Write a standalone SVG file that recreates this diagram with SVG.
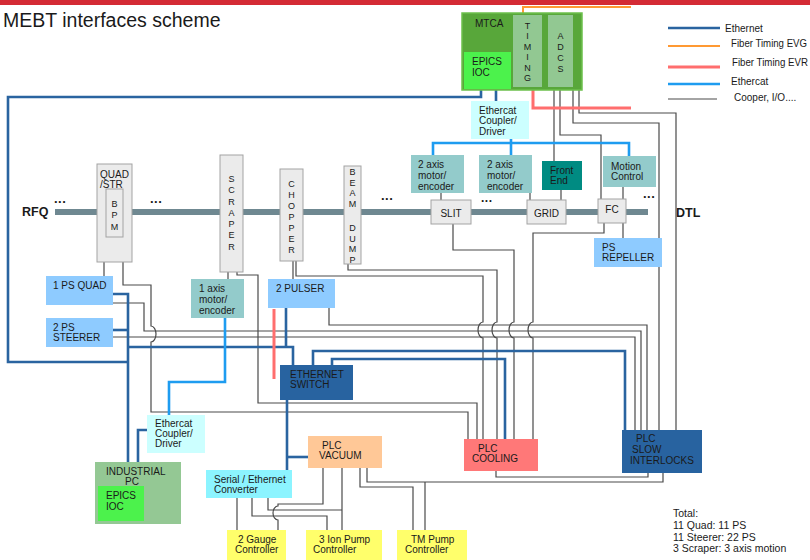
<svg xmlns="http://www.w3.org/2000/svg" width="810" height="560" viewBox="0 0 810 560">
<style>
text{font-family:"Liberation Sans",Arial,sans-serif;font-size:10px;fill:#1a1a1a}
.mid{text-anchor:middle}
.bl{fill:#ebebeb;stroke:#a3a3a3;stroke-width:1}
.cu{fill:none;stroke:#4a4a4a;stroke-width:1.2}
.eth{fill:none;stroke:#2a64a0;stroke-width:2.6}
.ecat{fill:none;stroke:#1e9cf0;stroke-width:2.6}
.evr{fill:none;stroke:#ff6e6e;stroke-width:3}
.evg{fill:none;stroke:#ff9933;stroke-width:2}
.ps{fill:#8ecbff}
.mot{fill:#93cbcb}
.cpl{fill:#ccffff}
.dblue{fill:#2863a0}
.ioc{fill:#4cf24c}
.yel{fill:#ffff6b}
.big{font-size:19.5px}
.bold{font-weight:bold;font-size:12.5px}
.dots{font-weight:bold;font-size:13px;letter-spacing:0.5px}
.small{font-size:9px}
.vt{font-size:9px;text-anchor:middle}
</style>
<rect width="810" height="560" fill="#ffffff"/>
<rect x="0" y="0" width="810" height="5" fill="#d42b35"/>
<text class="big" x="3" y="27">MEBT interfaces scheme</text>

<g id="legend">
<line x1="668" y1="28" x2="720" y2="28" class="eth"/>
<text x="725" y="32">Ethernet</text>
<line x1="668" y1="46" x2="720" y2="46" class="evg"/>
<text x="731" y="47" textLength="76" lengthAdjust="spacingAndGlyphs">Fiber Timing EVG</text>
<line x1="668" y1="67" x2="720" y2="67" class="evr"/>
<text x="732" y="66" textLength="76" lengthAdjust="spacingAndGlyphs">Fiber Timing EVR</text>
<line x1="668" y1="84" x2="720" y2="84" class="ecat"/>
<text x="731" y="85">Ethercat</text>
<line x1="668" y1="99" x2="717" y2="99" stroke="#4a4a4a" stroke-width="1.2"/>
<text x="734" y="101">Cooper, I/O....</text>
</g>

<g id="beamline">
<rect x="55" y="209" width="593" height="6" fill="#6f8891"/>
<text class="bold" x="22" y="216">RFQ</text>
<text class="bold" x="676" y="217">DTL</text>
<text class="dots" x="54" y="203">...</text>
<text class="dots" x="150" y="203">...</text>
<text class="dots" x="381" y="200">...</text>
<text class="dots" x="481" y="202" style="font-size:12px">...</text>
<text class="dots" x="643" y="198">...</text>
</g>

<g id="connectors">
<!-- copper -->
<path class="cu" d="M554,90V161"/>
<path class="cu" d="M560,90V135H601V199"/>
<path class="cu" d="M573,90V123H659V430"/>
<path class="cu" d="M579,90V113H676V430"/>
<path class="cu" d="M441,193V200"/>
<path class="cu" d="M530,193V200"/>
<path class="cu" d="M561,190V200"/>
<path class="cu" d="M623,187V199"/>
<path class="cu" d="M623,223V238"/>
<path class="cu" d="M604,223V233H533V322A5,8 0 0 0 533,338V440"/>
<path class="cu" d="M453,224V250H514V322A5,8 0 0 0 514,338V440"/>
<path class="cu" d="M348,264V270H497V322A5,8 0 0 0 497,338V440"/>
<path class="cu" d="M296,261V276H483V322A5,8 0 0 0 483,338V440"/>
<path class="cu" d="M293,261V279"/>
<path class="cu" d="M228,272V279"/>
<path class="cu" d="M237,272V275H258V403H477V439"/>
<path class="cu" d="M104,262V276"/>
<path class="cu" d="M123,262V285H151V326A5,8 0 0 1 151,342V412H468V439"/>
<path class="cu" d="M113,303H144V331H641V430"/>
<path class="cu" d="M113,337H635V430"/>
<path class="cu" d="M329,308V325H647V430"/>
<path class="cu" d="M496,471V477H648V473"/>
<path class="cu" d="M367,468V482H663V473"/>
<path class="cu" d="M360,468V487H413V530"/>
<path class="cu" d="M425,530V482"/>
<path class="cu" d="M342,468V530"/>
<path class="cu" d="M323,468V504H278V506A5,7 0 0 0 278,520V530"/>
<path class="cu" d="M237,498V530"/>
<path class="cu" d="M252,498V516H327V530"/>
<path class="cu" d="M268,498V510H342"/>
<!-- ethernet -->
<path class="eth" d="M481,89V97H8V362H128"/>
<path class="eth" d="M496,90V101"/>
<path class="eth" d="M113,294H128V462"/>
<path class="eth" d="M113,330H128"/>
<path class="eth" d="M128,347H293V365"/>
<path class="eth" d="M286,308V347"/>
<path class="eth" d="M313,365V351H625V430"/>
<path class="eth" d="M332,365V359H505V439"/>
<path class="eth" d="M287,400V470"/>
<path class="eth" d="M287,457H308"/>
<path class="eth" d="M147,430H138V462"/>
<!-- ethercat -->
<path class="ecat" d="M511,139V155"/>
<path class="ecat" d="M433,155V143H629V156"/>
<path class="ecat" d="M225,318V382H169V415"/>
<!-- fiber -->
<path class="evr" d="M533,87V108H631"/>
<path class="evr" d="M274,309V379"/>
<path class="evg" d="M523,15V7H631"/>
</g>

<g id="mtca">
<rect x="462" y="13" width="120" height="77" fill="#58a73a" stroke="#6cc04c" stroke-width="1.5"/>
<text x="475" y="27">MTCA</text>
</g>
<g id="mtca-ioc">
<rect x="464" y="52" width="47" height="37" class="ioc"/>
<text x="472" y="65">EPICS</text>
<text x="472" y="76">IOC</text>
</g>
<g id="timing">
<rect x="513" y="15" width="29" height="72" fill="#92c892"/>
<text class="vt" x="527.5" y="28.5">T</text>
<text class="vt" x="527.5" y="39">I</text>
<text class="vt" x="527.5" y="49.5">M</text>
<text class="vt" x="527.5" y="60">I</text>
<text class="vt" x="527.5" y="70.5">N</text>
<text class="vt" x="527.5" y="81">G</text>
</g>
<g id="adcs">
<rect x="548" y="15" width="25" height="72" fill="#92c892"/>
<text class="vt" x="560.5" y="39">A</text>
<text class="vt" x="560.5" y="50">D</text>
<text class="vt" x="560.5" y="61">C</text>
<text class="vt" x="560.5" y="72">S</text>
</g>

<g id="coupler-top">
<rect x="471" y="101" width="58" height="38" class="cpl"/>
<text x="479" y="113.5">Ethercat</text>
<text x="479" y="124">Coupler/</text>
<text x="479" y="134.5">Driver</text>
</g>
<g id="motor2a">
<rect x="411" y="155" width="53" height="38" class="mot"/>
<text x="418" y="167.5">2 axis</text>
<text x="418" y="178.5">motor/</text>
<text x="418" y="189.5">encoder</text>
</g>
<g id="motor2b">
<rect x="479" y="155" width="53" height="38" class="mot"/>
<text x="487" y="167.5">2 axis</text>
<text x="487" y="178.5">motor/</text>
<text x="487" y="189.5">encoder</text>
</g>
<g id="frontend">
<rect x="542" y="161" width="40" height="29" fill="#008b82"/>
<text x="550" y="173.5">Front</text>
<text x="550" y="184">End</text>
</g>
<g id="motion">
<rect x="603" y="156" width="53" height="31" class="mot"/>
<text x="611" y="169.5">Motion</text>
<text x="611" y="179.5">Control</text>
</g>

<g id="quad">
<rect x="97" y="164" width="35" height="98" class="bl"/>
<text x="100" y="177.5">QUAD</text>
<text x="100" y="187.5">/STR</text>
<rect x="106" y="189" width="17" height="48" class="bl"/>
<text class="vt" x="114.5" y="206.5">B</text>
<text class="vt" x="114.5" y="218">P</text>
<text class="vt" x="114.5" y="230">M</text>
</g>
<g id="scraper">
<rect x="220" y="155" width="23" height="117" class="bl"/>
<text class="vt" x="231.5" y="181.5">S</text>
<text class="vt" x="231.5" y="192.5">C</text>
<text class="vt" x="231.5" y="204.5">R</text>
<text class="vt" x="231.5" y="215.5">A</text>
<text class="vt" x="231.5" y="226.5">P</text>
<text class="vt" x="231.5" y="237.5">E</text>
<text class="vt" x="231.5" y="249.5">R</text>
</g>
<g id="chopper">
<rect x="280" y="169" width="23" height="92" class="bl"/>
<text class="vt" x="291.5" y="186.5">C</text>
<text class="vt" x="291.5" y="197.5">H</text>
<text class="vt" x="291.5" y="208.5">O</text>
<text class="vt" x="291.5" y="219.5">P</text>
<text class="vt" x="291.5" y="230.5">P</text>
<text class="vt" x="291.5" y="241.5">E</text>
<text class="vt" x="291.5" y="252.5">R</text>
</g>
<g id="beamdump">
<rect x="344" y="166" width="17" height="98" class="bl"/>
<text class="vt" x="352.5" y="174.5">B</text>
<text class="vt" x="352.5" y="185.5">E</text>
<text class="vt" x="352.5" y="196">A</text>
<text class="vt" x="352.5" y="207">M</text>
<text class="vt" x="352.5" y="231">D</text>
<text class="vt" x="352.5" y="241.5">U</text>
<text class="vt" x="352.5" y="252">M</text>
<text class="vt" x="352.5" y="262.5">P</text>
</g>
<g id="slit">
<rect x="431" y="200" width="40" height="24" class="bl"/>
<text class="mid" x="451" y="216.5">SLIT</text>
</g>
<g id="grid">
<rect x="527" y="200" width="39" height="24" class="bl"/>
<text class="mid" x="546.5" y="216.5">GRID</text>
</g>
<g id="fc">
<rect x="598" y="199" width="28" height="24" class="bl"/>
<text class="mid" x="612" y="212.5">FC</text>
</g>
<g id="repeller">
<rect x="594" y="238" width="68" height="29" class="ps"/>
<text x="602" y="250.5">PS</text>
<text x="602" y="260.5">REPELLER</text>
</g>

<g id="psquad">
<rect x="46" y="276" width="67" height="29" class="ps"/>
<text x="53" y="288.5">1 PS QUAD</text>
</g>
<g id="steerer">
<rect x="46" y="318" width="67" height="29" class="ps"/>
<text x="53" y="330.5">2 PS</text>
<text x="53" y="340.5">STEERER</text>
</g>
<g id="motor1">
<rect x="191" y="279" width="53" height="39" class="mot"/>
<text x="199" y="291.5">1 axis</text>
<text x="199" y="302.5">motor/</text>
<text x="199" y="313.5">encoder</text>
</g>
<g id="pulser">
<rect x="268" y="279" width="67" height="29" class="ps"/>
<text x="276" y="291.5">2 PULSER</text>
</g>
<g id="switch">
<rect x="280" y="365" width="73" height="35" class="dblue"/>
<text x="290" y="377.5">ETHERNET</text>
<text x="290" y="387.5">SWITCH</text>
</g>
<g id="coupler-low">
<rect x="147" y="415" width="58" height="38" class="cpl"/>
<text x="155" y="426.5">Ethercat</text>
<text x="155" y="436.5">Coupler/</text>
<text x="155" y="446.5">Driver</text>
</g>
<g id="industrialpc">
<rect x="95" y="462" width="86" height="62" fill="#94c894"/>
<text x="106" y="474.5">INDUSTRIAL</text>
<text x="125" y="484.5">PC</text>
</g>
<g id="pc-ioc">
<rect x="98" y="486" width="46" height="35" class="ioc"/>
<text x="106" y="498.5">EPICS</text>
<text x="106" y="509.5">IOC</text>
</g>
<g id="converter">
<rect x="206" y="470" width="86" height="28" fill="#8cf4ff"/>
<text x="214" y="482.5">Serial / Ethernet</text>
<text x="214" y="492.5">Converter</text>
</g>
<g id="vacuum">
<rect x="308" y="436" width="74" height="32" fill="#ffc897"/>
<text x="322" y="448.5">PLC</text>
<text x="319" y="458.5">VACUUM</text>
</g>
<g id="cooling">
<rect x="464" y="439" width="74" height="32" fill="#ff7878"/>
<text x="478" y="451.5">PLC</text>
<text x="472" y="461.5">COOLING</text>
</g>
<g id="interlocks">
<rect x="622" y="430" width="80" height="43" class="dblue"/>
<text x="636" y="441.5">PLC</text>
<text x="632" y="452.5">SLOW</text>
<text x="630" y="463.5">INTERLOCKS</text>
</g>
<g id="gauge">
<rect x="227" y="530" width="59" height="30" class="yel"/>
<text x="238" y="542.5">2 Gauge</text>
<text x="235" y="552.5">Controller</text>
</g>
<g id="ionpump">
<rect x="306" y="530" width="76" height="30" class="yel"/>
<text x="319" y="542.5">3 Ion Pump</text>
<text x="313" y="552.5">Controller</text>
</g>
<g id="tmpump">
<rect x="397" y="530" width="70" height="30" class="yel"/>
<text x="411" y="542.5">TM Pump</text>
<text x="405" y="552.5">Controller</text>
</g>

<g id="totals">
<text x="673" y="517" style="font-size:10.5px">Total:</text>
<text x="673" y="529" style="font-size:10.5px">11 Quad: 11 PS</text>
<text x="673" y="541" style="font-size:10.5px">11 Steerer: 22 PS</text>
<text x="673" y="552" style="font-size:10.5px">3 Scraper: 3 axis motion</text>
</g>
</svg>
